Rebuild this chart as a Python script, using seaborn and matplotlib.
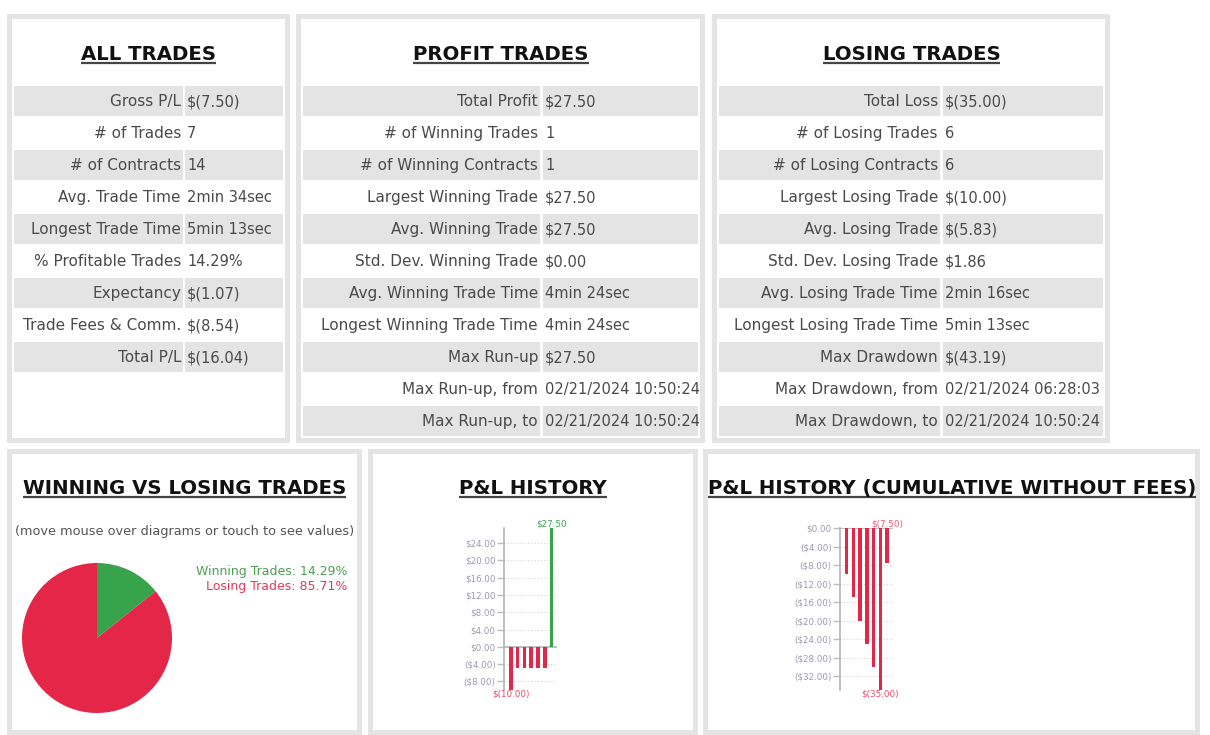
import numpy as np
import pandas as pd
import matplotlib
matplotlib.use('Agg')
import matplotlib.pyplot as plt
from matplotlib.patches import Rectangle
import seaborn as sns

# table contents
all_labels = ['Gross P/L', '# of Trades', '# of Contracts', 'Avg. Trade Time', 'Longest Trade Time',
              '% Profitable Trades', 'Expectancy', 'Trade Fees & Comm.', 'Total P/L']
all_values = ['$(7.50)', '7', '14', '2min 34sec', '5min 13sec', '14.29%', '$(1.07)', '$(8.54)', '$(16.04)']

profit_labels = ['Total Profit', '# of Winning Trades', '# of Winning Contracts', 'Largest Winning Trade',
                 'Avg. Winning Trade', 'Std. Dev. Winning Trade', 'Avg. Winning Trade Time',
                 'Longest Winning Trade Time', 'Max Run-up', 'Max Run-up, from', 'Max Run-up, to']
profit_values = ['$27.50', '1', '1', '$27.50', '$27.50', '$0.00', '4min 24sec', '4min 24sec', '$27.50',
                 '02/21/2024 10:50:24', '02/21/2024 10:50:24']

losing_labels = ['Total Loss', '# of Losing Trades', '# of Losing Contracts', 'Largest Losing Trade',
                 'Avg. Losing Trade', 'Std. Dev. Losing Trade', 'Avg. Losing Trade Time',
                 'Longest Losing Trade Time', 'Max Drawdown', 'Max Drawdown, from', 'Max Drawdown, to']
losing_values = ['$(35.00)', '6', '6', '$(10.00)', '$(5.83)', '$1.86', '2min 16sec', '5min 13sec',
                 '$(43.19)', '02/21/2024 06:28:03', '02/21/2024 10:50:24']

# pie
pie_labels = ['Winning Trades', 'Losing Trades']
pie_counts = [1, 6]
pie_pcts = [14.29, 85.71]

# bar charts
trade_pl = [-10.0, -5.0, -5.0, -5.0, -5.0, -5.0, 27.50]
cum_pl = [-10.0, -15.0, -20.0, -25.0, -30.0, -35.0, -7.50]
pl_ticks = [-8, -4, 0, 4, 8, 12, 16, 20, 24]
cum_ticks = [0, -4, -8, -12, -16, -20, -24, -28, -32]

GREEN = '#37a34a'
RED = '#e42648'
BORDER = '#e4e4e4'
TXT = '#4a4a4a'

sns.set_style('white')
plt.rcParams['font.family'] = ['DejaVu Sans']

W, H = 1210, 735
fig = plt.figure(figsize=(W / 100, H / 100), dpi=100)
bg = fig.add_axes([0, 0, 1, 1])
bg.set_xlim(0, W)
bg.set_ylim(H, 0)
bg.axis('off')


def panel(x0, y0, x1, y1):
    bg.add_patch(Rectangle((x0, y0), x1 - x0, y1 - y0, color=BORDER, lw=0))
    bg.add_patch(Rectangle((x0 + 5, y0 + 5), x1 - x0 - 10, y1 - y0 - 10, color='white', lw=0))


def title(cx, baseline, s):
    return bg.text(cx, baseline, s, ha='center', va='baseline', fontsize=14.2,
                   fontweight='bold', color='#111111')


def table(labels, values, lx0, lx1, vx0, vx1):
    for i, (lab, val) in enumerate(zip(labels, values)):
        top = 86 + 32 * i
        if i % 2 == 0:
            bg.add_patch(Rectangle((lx0, top), lx1 - lx0, 30, color=BORDER, lw=0))
            bg.add_patch(Rectangle((vx0, top), vx1 - vx0, 30, color=BORDER, lw=0))
        bg.text(lx1 - 2, top + 20, lab, ha='right', va='baseline', fontsize=11, color=TXT)
        bg.text(vx0 + 2, top + 20, val, ha='left', va='baseline', fontsize=10.5, color=TXT)


panel(7, 14, 290, 443)
panel(296, 14, 705, 443)
panel(712, 14, 1110, 443)
panel(7, 449, 362, 735)
panel(368, 449, 698, 735)
panel(703, 449, 1200, 735)

titles = [title(148.5, 60, 'ALL TRADES'),
          title(501, 60, 'PROFIT TRADES'),
          title(911.5, 60, 'LOSING TRADES'),
          title(184.5, 494, 'WINNING VS LOSING TRADES'),
          title(533, 494, 'P&L HISTORY'),
          title(952, 494, 'P&L HISTORY (CUMULATIVE WITHOUT FEES)')]

table(all_labels, all_values, 14, 183, 185, 283)
table(profit_labels, profit_values, 303, 540, 543, 698)
table(losing_labels, losing_values, 719, 940, 943, 1103)

bg.text(184.5, 531.5, '(move mouse over diagrams or touch to see values)', ha='center', va='center',
        fontsize=9.3, color='#555555')
leg_colors = ['#4f9e55', '#e8365c']
for i, (lab, pct) in enumerate(zip(pie_labels, pie_pcts)):
    bg.text(347, 571.5 + 15 * i, f'{lab}: {pct:.2f}%', ha='right', va='center',
            fontsize=9, color=leg_colors[i])


def px_axes(x0, y0, x1, y1):
    return fig.add_axes([x0 / W, 1 - y1 / H, (x1 - x0) / W, (y1 - y0) / H])


# pie
pax = px_axes(22, 563, 172, 713)
pax.pie(pie_counts, colors=[GREEN, RED], startangle=90, counterclock=False,
        wedgeprops=dict(linewidth=0), radius=1)
pax.set_xlim(-1, 1)
pax.set_ylim(-1, 1)
pax.set_aspect('equal')


def tick_fmt(v):
    return f'${v:.2f}' if v >= 0 else f'(${-v:.2f})'


def val_fmt(v):
    return f'${v:.2f}' if v >= 0 else f'$({-v:.2f})'


def pl_chart(box, values, ticks, ylim, xlim):
    ax = px_axes(*box)
    df = pd.DataFrame({'trade': list(range(len(values))), 'pl': values})
    df['side'] = np.where(df['pl'] > 0, 'win', 'loss')
    sns.barplot(data=df, x='trade', y='pl', hue='side', palette={'win': GREEN, 'loss': RED},
                dodge=False, width=0.52, linewidth=0, saturation=1, legend=False, ax=ax, zorder=3)
    ax.set_ylim(*ylim)
    ax.set_xlim(*xlim)
    ax.patch.set_alpha(0)
    for s in ['top', 'right', 'bottom']:
        ax.spines[s].set_visible(False)
    ax.spines['left'].set_color('#b4b4b4')
    ax.spines['left'].set_linewidth(1.2)
    ax.set_yticks(ticks)
    ax.set_yticklabels([tick_fmt(v) for v in ticks])
    ax.tick_params(axis='y', length=5, width=1, color='#bdbdbd', labelcolor='#9a9cab',
                   labelsize=6.3, pad=1, left=True)
    ax.set_xticks([])
    ax.set_xlabel('')
    ax.set_ylabel('')
    for t in ticks:
        if t != 0:
            ax.axhline(t, color='#d2d2d2', lw=0.8, ls=(0, (1, 2)), zorder=0)
    ax.axhline(0, color='#b4b4b4', lw=1.2, zorder=2)
    last = len(values) - 1
    lo = int(np.argmin(values))
    ax.text(last, ylim[1], val_fmt(values[last]), ha='center', va='bottom', fontsize=6.3,
            color=GREEN if values[last] > 0 else '#ec5a72', clip_on=False)
    ax.text(lo, ylim[0], val_fmt(values[lo]), ha='center', va='top', fontsize=6.3,
            color='#ec4a66', clip_on=False)
    return ax


pl_chart((504, 528, 557, 690), trade_pl, pl_ticks, (-10, 27.5), (-1, 6.8))
pl_chart((840, 528, 893, 690), cum_pl, cum_ticks, (-35, 0), (-1, 6.9))

# underline titles
fig.canvas.draw()
renderer = fig.canvas.get_renderer()
inv = bg.transData.inverted()
for t in titles:
    bb = t.get_window_extent(renderer)
    (x0, _), (x1, _) = inv.transform([[bb.x0, bb.y0], [bb.x1, bb.y1]])
    yb = t.get_position()[1] + 2.5
    bg.plot([x0, x1], [yb, yb], color='#444444', lw=1.6, solid_capstyle='butt')

fig.savefig('out.png', dpi=100)
